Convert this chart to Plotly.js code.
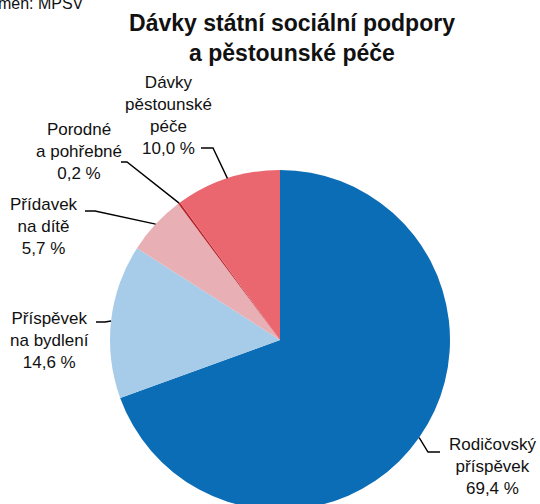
<!DOCTYPE html>
<html>
<head>
<meta charset="utf-8">
<script src="https://cdn.plot.ly/plotly-3.0.1.min.js"></script>
<style>
html,body{margin:0;padding:0;overflow:hidden;background:#fff;}
#chart{width:540px;height:540px;}
</style>
</head>
<body>
<div id="chart"></div>
<script>
// Data
const categories = ["Rodičovský příspěvek", "Příspěvek na bydlení", "Přídavek na dítě", "Porodné a pohřebné", "Dávky pěstounské péče"];
const labelTexts = ["Rodičovský<br>příspěvek<br>69,4 %", "Příspěvek<br>na bydlení<br>14,6 %", "Přídavek<br>na dítě<br>5,7 %", "Porodné<br>a pohřebné<br>0,2 %", "Dávky<br>pěstounské<br>péče<br>10,0 %"];
const values = [69.4, 14.6, 5.7, 0.2, 10.0];
const colors = ["#0c6db7", "#a7cce9", "#e8b0b5", "#b8242c", "#ea6770"];

// Layout geometry (pixels)
const W = 540, H = 540;
const cx = 280, cy = 340, R = 170;
// label centres and leader elbows/ends (layout choices)
const labelPos = [[492, 466], [49, 340], [44, 226], [79, 152], [168, 116]];
const elbows = [[[428, 452], [440, 452]], [[105, 322], [96, 322]], [[95, 211], [85, 211]], [[127, 162], [121, 162]], [[213, 148], [201, 148]]];

const px = x => x / W;
const py = y => 1 - y / H;

const total = values.reduce((a, b) => a + b, 0);
const shapes = [];
const annotations = [];
let cum = 0;
values.forEach((v, i) => {
  const mid = (cum + v / 2) / total * 2 * Math.PI; // clockwise from 12 o'clock
  cum += v;
  const ex = cx + R * Math.sin(mid);
  const ey = cy - R * Math.cos(mid);
  const [e1, e2] = elbows[i];
  shapes.push({
    type: 'path', xref: 'paper', yref: 'paper',
    path: `M ${px(ex)} ${py(ey)} L ${px(e1[0])} ${py(e1[1])} L ${px(e2[0])} ${py(e2[1])}`,
    line: {color: '#000', width: 1.4}
  });
  annotations.push({
    xref: 'paper', yref: 'paper',
    x: px(labelPos[i][0]), y: py(labelPos[i][1]),
    xanchor: 'center', yanchor: 'middle', align: 'center',
    text: labelTexts[i], showarrow: false,
    font: {family: 'Liberation Sans, Arial, sans-serif', size: 17, color: '#111'}
  });
});

annotations.push({
  xref: 'paper', yref: 'paper', x: px(-29), y: py(14),
  xanchor: 'left', yanchor: 'bottom', showarrow: false,
  text: 'Pramen: MPSV',
  font: {family: 'Liberation Sans, Arial, sans-serif', size: 16, color: '#111'}
});

const trace = {
  type: 'pie',
  labels: categories,
  values: values,
  sort: false,
  direction: 'clockwise',
  rotation: 0,
  marker: {colors: colors, line: {width: 0}},
  textinfo: 'none',
  hoverinfo: 'label+percent',
  showlegend: false,
  domain: {x: [px(cx - R), px(cx + R)], y: [py(cy + R), py(cy - R)]}
};

const layout = {
  width: W, height: H,
  margin: {l: 0, r: 0, t: 0, b: 0},
  paper_bgcolor: '#fff',
  title: {
    text: '<b>Dávky státní sociální podpory<br>a pěstounské péče</b>',
    x: 292 / W, xanchor: 'center',
    y: py(31), yanchor: 'top', yref: 'container',
    font: {family: 'Liberation Sans, Arial, sans-serif', size: 23, color: '#111'}
  },
  shapes: shapes,
  annotations: annotations
};

Plotly.newPlot('chart', [trace], layout, {displayModeBar: false, staticPlot: true});
</script>
</body>
</html>
